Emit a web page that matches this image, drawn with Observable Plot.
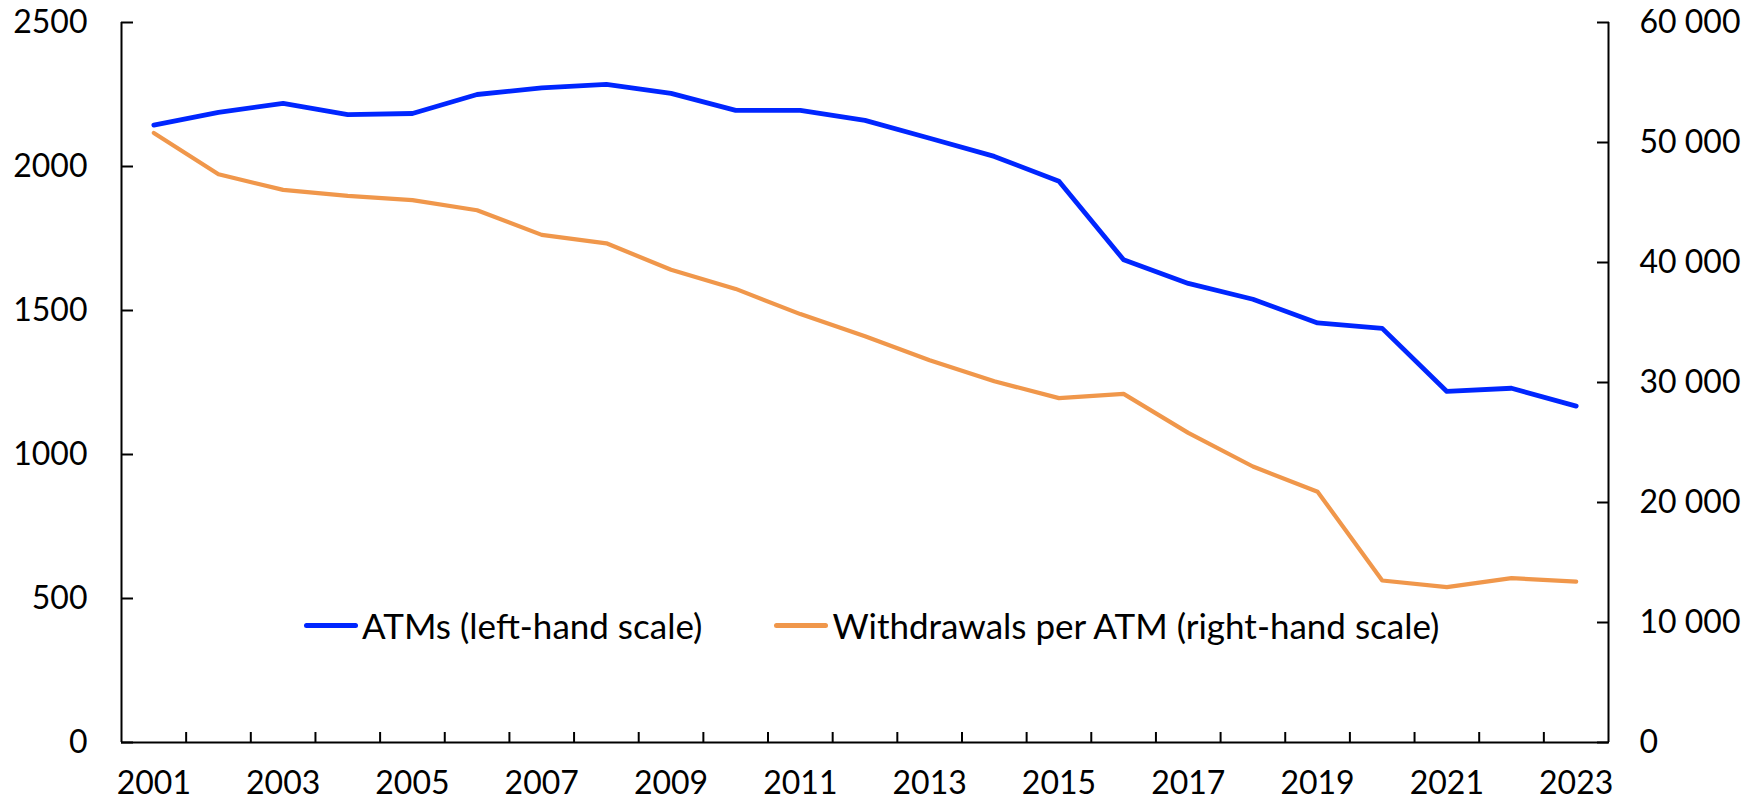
<!DOCTYPE html>
<html>
<head>
<meta charset="utf-8">
<script src="https://cdn.jsdelivr.net/npm/d3@7"></script>
<script src="https://cdn.jsdelivr.net/npm/@observablehq/plot@0.6"></script>
<style>
  html, body { margin: 0; padding: 0; background: #fff; overflow: hidden; }
  #wrap { position: relative; width: 1763px; height: 807px; }
  #legend { position: absolute; left: 304px; top: 604px; display: flex; align-items: center;
            font-family: Lato, "Open Sans", sans-serif; font-size: 35px; color: #000; white-space: nowrap; }
  #legend .item { display: flex; align-items: center; }
  #legend .sw { display: inline-block; width: 54px; height: 5px; border-radius: 3px; margin-right: 4px; }
</style>
</head>
<body>
<div id="wrap">
  <div id="chart"></div>
  <div id="legend"></div>
</div>
<script>
const years = [2001,2002,2003,2004,2005,2006,2007,2008,2009,2010,2011,2012,2013,2014,2015,2016,2017,2018,2019,2020,2021,2022,2023];
const atms = [2144,2188,2219,2180,2184,2250,2273,2285,2254,2195,2195,2160,2098,2035,1949,1676,1594,1539,1457,1438,1219,1230,1168];
const withdrawalsPerAtm = [50800,47350,46050,45550,45200,44350,42300,41600,39400,37800,35700,33850,31850,30100,28700,29050,25800,23000,20900,13500,12950,13700,13400];
const leftTicks = [0,500,1000,1500,2000,2500];
const rightTicks = [0,10000,20000,30000,40000,50000,60000];
const xLabelYears = [2001,2003,2005,2007,2009,2011,2013,2015,2017,2019,2021,2023];
const seriesNames = ["ATMs (left-hand scale)", "Withdrawals per ATM (right-hand scale)"];
const colors = ["#0026ff", "#f0974b"];

const leftMax = 2500, rightMax = 60000;
const toLeft = v => v * leftMax / rightMax;
const fmtRight = v => v === 0 ? "0" : d3.format(",")(v).replace(/,/g, " ");

const atmData = years.map((y, i) => ({year: y, value: atms[i]}));
const wdData = years.map((y, i) => ({year: y, value: toLeft(withdrawalsPerAtm[i])}));
const boundaries = years.slice(0, -1).map(y => y + 0.5);

const font = "Lato, 'Open Sans', sans-serif";

const chart = Plot.plot({
  width: 1763,
  height: 807,
  marginLeft: 121,
  marginRight: 155,
  marginTop: 22,
  marginBottom: 65,
  style: {fontFamily: font, fontSize: "32px", color: "#000", background: "#fff"},
  x: {domain: [years[0] - 0.5, years[years.length - 1] + 0.5]},
  y: {domain: [0, leftMax]},
  marks: [
    Plot.axisY(leftTicks, {anchor: "left", tickSize: -12, tickPadding: 46, strokeWidth: 2, label: null, tickFormat: d => String(d)}),
    Plot.axisY(rightTicks.map(toLeft), {anchor: "right", tickSize: -12, tickPadding: 43, strokeWidth: 2, label: null,
      tickFormat: (d, i) => fmtRight(rightTicks[i])}),
    Plot.axisX(boundaries, {anchor: "bottom", tickSize: -10, strokeWidth: 2, tickFormat: () => "", label: null}),
    Plot.axisX(xLabelYears, {anchor: "bottom", tickSize: 0, tickPadding: 29, label: null, tickFormat: d => String(d)}),
    Plot.ruleX([years[0] - 0.5, years[years.length - 1] + 0.5], {stroke: "#000", strokeWidth: 2}),
    Plot.ruleY([0], {stroke: "#000", strokeWidth: 2}),
    Plot.line(wdData, {x: "year", y: "value", stroke: colors[1], strokeWidth: 4.2, strokeLinejoin: "round", strokeLinecap: "round"}),
    Plot.line(atmData, {x: "year", y: "value", stroke: colors[0], strokeWidth: 4.8, strokeLinejoin: "round", strokeLinecap: "round"})
  ]
});
document.getElementById("chart").appendChild(chart);

const legend = document.getElementById("legend");
seriesNames.forEach((name, i) => {
  const item = document.createElement("span");
  item.className = "item";
  if (i > 0) item.style.marginLeft = "72px";
  const sw = document.createElement("span");
  sw.className = "sw";
  sw.style.background = colors[i];
  item.appendChild(sw);
  item.appendChild(document.createTextNode(name));
  legend.appendChild(item);
});
</script>
</body>
</html>
